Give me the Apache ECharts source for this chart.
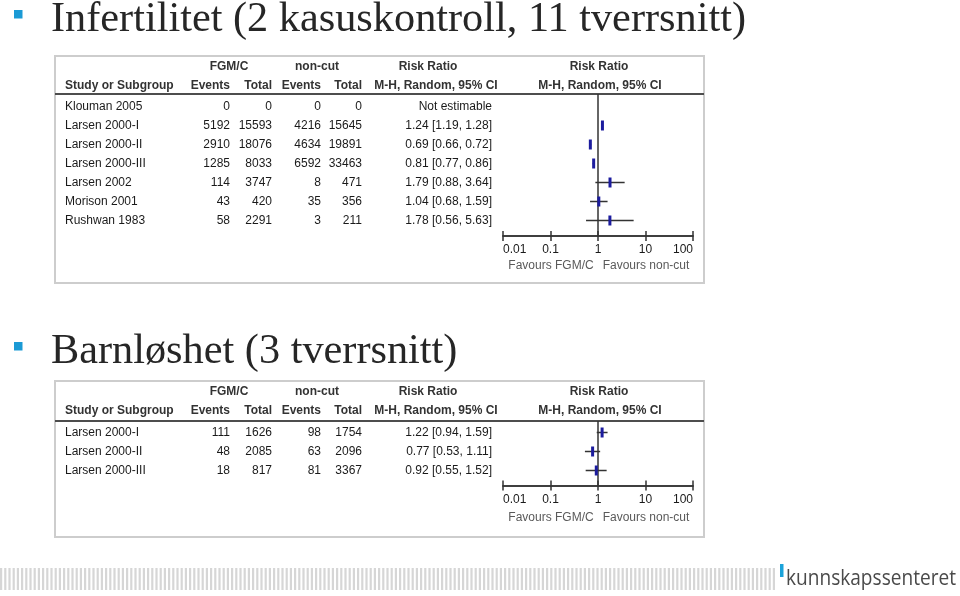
<!DOCTYPE html>
<html><head><meta charset="utf-8">
<script src="https://cdn.jsdelivr.net/npm/echarts@6/dist/echarts.min.js"></script>
<style>html,body{margin:0;padding:0;background:#fff}#c{width:960px;height:596px}</style>
</head><body><div id="c"></div>
<script>
// ---------- data ----------
const titles = ['Infertilitet (2 kasuskontroll, 11 tverrsnitt)', 'Barnløshet (3 tverrsnitt)'];
const headerTop = ['FGM/C', 'non-cut', 'Risk Ratio', 'Risk Ratio'];
const headerBottom = ['Study or Subgroup', 'Events', 'Total', 'Events', 'Total', 'M-H, Random, 95% CI', 'M-H, Random, 95% CI'];
const tickLabels = ['0.01', '0.1', '1', '10', '100'];
const favours = ['Favours FGM/C', 'Favours non-cut'];
const notEstimable = 'Not estimable';
const logoText = 'kunnskapssenteret';

const studies1 = ['Klouman 2005', 'Larsen 2000-I', 'Larsen 2000-II', 'Larsen 2000-III', 'Larsen 2002', 'Morison 2001', 'Rushwan 1983'];
const events1A = [0, 5192, 2910, 1285, 114, 43, 58];
const total1A  = [0, 15593, 18076, 8033, 3747, 420, 2291];
const events1B = [0, 4216, 4634, 6592, 8, 35, 3];
const total1B  = [0, 15645, 19891, 33463, 471, 356, 211];
const rr1 = [null, 1.24, 0.69, 0.81, 1.79, 1.04, 1.78];
const lo1 = [null, 1.19, 0.66, 0.77, 0.88, 0.68, 0.56];
const hi1 = [null, 1.28, 0.72, 0.86, 3.64, 1.59, 5.63];

const studies2 = ['Larsen 2000-I', 'Larsen 2000-II', 'Larsen 2000-III'];
const events2A = [111, 48, 18];
const total2A  = [1626, 2085, 817];
const events2B = [98, 63, 81];
const total2B  = [1754, 2096, 3367];
const rr2 = [1.22, 0.77, 0.92];
const lo2 = [0.94, 0.53, 0.55];
const hi2 = [1.59, 1.11, 1.52];

// ---------- layout ----------
const SANS = '"Liberation Sans", Arial, sans-serif';
const SERIF = '"Liberation Serif", "Times New Roman", serif';
const panels = [
  {box: [55, 56, 649, 227], h1: 67, h2: 86, line: 94, row0: 106.5, axisY: 236, fav: 266,
   studies: studies1, eA: events1A, tA: total1A, eB: events1B, tB: total1B, rr: rr1, lo: lo1, hi: hi1},
  {box: [55, 381, 649, 156], h1: 392, h2: 411, line: 421, row0: 432.5, axisY: 485.5, fav: 518,
   studies: studies2, eA: events2A, tA: total2A, eB: events2B, tB: total2B, rr: rr2, lo: lo2, hi: hi2}
];
const STEP = 19;
const plotLeft = 503, plotWidth = 190;
const colRight = [230, 272, 321, 362];
const rrRight = 492;

function txt(x, y, text, opt) {
  opt = opt || {};
  const align = opt.align || 'left';
  return {
    type: 'text', x: x, y: y, silent: true, z: 10,
    style: {
      text: text, fill: opt.fill || '#1a1a1a',
      font: (opt.weight || 'normal') + ' ' + (opt.size || 12) + 'px ' + (opt.family || SANS),
      align: align, textAlign: align, verticalAlign: 'middle', textVerticalAlign: 'middle'
    }
  };
}

const graphic = [];
// titles + bullets
const titleY = [20, 352];
const bulletY = [10, 342];
titles.forEach((t, k) => {
  graphic.push({type: 'rect', silent: true, shape: {x: 14, y: bulletY[k], width: 8.5, height: 8.5}, style: {fill: '#1b9ad5'}});
  graphic.push(txt(51, titleY[k], t, {size: 42.3, family: SERIF, fill: '#262626'}));
});

function fmt(v) { return v.toFixed(2); }

panels.forEach((p) => {
  const [bx, by, bw, bh] = p.box;
  graphic.push({type: 'rect', silent: true, z: 1, shape: {x: bx, y: by, width: bw, height: bh},
    style: {fill: 'none', stroke: '#cdcdcd', lineWidth: 2}});
  graphic.push({type: 'line', silent: true, z: 2, shape: {x1: bx, y1: p.line, x2: bx + bw, y2: p.line},
    style: {stroke: '#4d4d4d', lineWidth: 2}});
  const hs = {weight: 'bold', size: 12, fill: '#333'};
  graphic.push(txt(229, p.h1, headerTop[0], Object.assign({align: 'center'}, hs)));
  graphic.push(txt(317, p.h1, headerTop[1], Object.assign({align: 'center'}, hs)));
  graphic.push(txt(428, p.h1, headerTop[2], Object.assign({align: 'center'}, hs)));
  graphic.push(txt(599, p.h1, headerTop[3], Object.assign({align: 'center'}, hs)));
  graphic.push(txt(65, p.h2, headerBottom[0], hs));
  graphic.push(txt(colRight[0], p.h2, headerBottom[1], Object.assign({align: 'right'}, hs)));
  graphic.push(txt(colRight[1], p.h2, headerBottom[2], Object.assign({align: 'right'}, hs)));
  graphic.push(txt(colRight[2], p.h2, headerBottom[3], Object.assign({align: 'right'}, hs)));
  graphic.push(txt(colRight[3], p.h2, headerBottom[4], Object.assign({align: 'right'}, hs)));
  graphic.push(txt(436, p.h2, headerBottom[5], Object.assign({align: 'center'}, hs)));
  graphic.push(txt(600, p.h2, headerBottom[6], Object.assign({align: 'center'}, hs)));
  p.studies.forEach((s, i) => {
    const y = p.row0 + i * STEP;
    graphic.push(txt(65, y, s));
    graphic.push(txt(colRight[0], y, String(p.eA[i]), {align: 'right'}));
    graphic.push(txt(colRight[1], y, String(p.tA[i]), {align: 'right'}));
    graphic.push(txt(colRight[2], y, String(p.eB[i]), {align: 'right'}));
    graphic.push(txt(colRight[3], y, String(p.tB[i]), {align: 'right'}));
    const rt = p.rr[i] == null ? notEstimable : fmt(p.rr[i]) + ' [' + fmt(p.lo[i]) + ', ' + fmt(p.hi[i]) + ']';
    graphic.push(txt(rrRight, y, rt, {align: 'right'}));
  });
  graphic.push(txt(551, p.fav, favours[0], {align: 'center', fill: '#5a5a5a'}));
  graphic.push(txt(646, p.fav, favours[1], {align: 'center', fill: '#5a5a5a'}));
});

// footer stripes + logo
for (let x = 0; x < 776; x += 4.2) {
  graphic.push({type: 'rect', silent: true, shape: {x: x, y: 568, width: 2.2, height: 22}, style: {fill: '#d6d6d6'}});
}
graphic.push({type: 'rect', silent: true, shape: {x: 780, y: 564, width: 3.5, height: 13}, style: {fill: '#1ba3da'}});
(function () {
  const ctx = document.createElement('canvas').getContext('2d');
  ctx.font = '22px "Open Sans"';
  const w = ctx.measureText(logoText).width || 200;
  graphic.push({type: 'text', silent: true, x: 786, y: 579, scaleX: 170 / w,
    style: {text: logoText, x: 0, y: 0, font: '22px "Open Sans"', fill: '#4a4a4a',
      verticalAlign: 'middle', textVerticalAlign: 'middle'}});
})();

// ---------- chart ----------
const grids = [], xAxes = [], yAxes = [], series = [];
panels.forEach((p, k) => {
  const yMin = -(p.row0 - p.line) / STEP;
  const yMax = (p.axisY - p.row0) / STEP;
  const g = {left: plotLeft, width: plotWidth, top: p.line, height: p.axisY - p.line};
  grids.push(Object.assign({}, g));       // main grid 2k
  grids.push(Object.assign({}, g));       // duplicate grid 2k+1 (upward ticks)
  const axBase = {type: 'log', logBase: 10, min: 0.01, max: 100, position: 'bottom',
    splitLine: {show: false}, minorTick: {show: false},
    axisLine: {show: true, onZero: false, lineStyle: {color: '#333', width: 1.5}}};
  xAxes.push(Object.assign({}, axBase, {gridIndex: 2 * k,
    axisTick: {show: true, length: 5, lineStyle: {color: '#333', width: 1.5}},
    axisLabel: {show: true, margin: 8, color: '#1a1a1a', fontSize: 12, fontFamily: SANS,
      alignMinLabel: 'left', alignMaxLabel: 'right',
      formatter: (v) => tickLabels[Math.round(Math.log10(v)) + 2]}
  }));
  xAxes.push(Object.assign({}, axBase, {gridIndex: 2 * k + 1,
    axisTick: {show: true, inside: true, length: 5, lineStyle: {color: '#333', width: 1.5}},
    axisLabel: {show: false}
  }));
  yAxes.push({type: 'value', gridIndex: 2 * k, min: yMin, max: yMax, inverse: true, show: false});
  yAxes.push({type: 'value', gridIndex: 2 * k + 1, min: yMin, max: yMax, inverse: true, show: false});
  series.push({type: 'line', xAxisIndex: 2 * k, yAxisIndex: 2 * k, symbol: 'none', silent: true,
    lineStyle: {color: '#333', width: 1.5}, data: [[1, yMin], [1, yMax]], z: 2, animation: false});
  const data = [];
  p.rr.forEach((r, i) => { if (r != null) data.push([r, i, p.lo[i], p.hi[i]]); });
  series.push({type: 'custom', xAxisIndex: 2 * k, yAxisIndex: 2 * k, silent: true, z: 3,
    encode: {x: 0, y: 1}, data: data,
    renderItem: function (params, api) {
      const i = api.value(1);
      const pm = api.coord([api.value(0), i]);
      const pl = api.coord([api.value(2), i]);
      const ph = api.coord([api.value(3), i]);
      return {type: 'group', children: [
        {type: 'line', shape: {x1: pl[0], y1: pl[1], x2: ph[0], y2: ph[1]}, style: {stroke: '#333', lineWidth: 1.5}},
        {type: 'rect', shape: {x: pm[0] - 1.5, y: pm[1] - 5, width: 3, height: 10}, style: {fill: '#1c1c9e'}}
      ]};
    }});
});

const chart = echarts.init(document.getElementById('c'), null, {renderer: 'canvas'});
chart.setOption({
  animation: false,
  backgroundColor: '#ffffff',
  grid: grids, xAxis: xAxes, yAxis: yAxes, series: series,
  graphic: graphic
});
</script>
</body></html>
